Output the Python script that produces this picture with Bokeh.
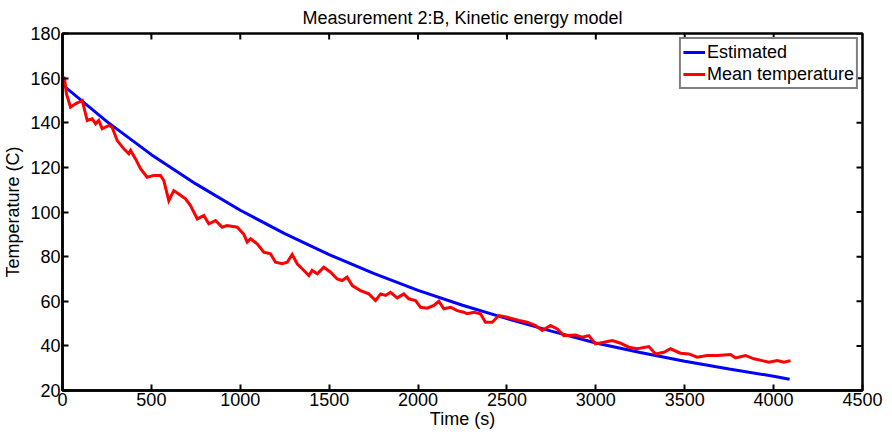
from bokeh.plotting import figure
from bokeh.models import FixedTicker, Legend, LegendItem, Range1d
from bokeh.embed import file_html
from bokeh.resources import INLINE

# Estimated (model) curve
est_time = [0, 250, 500, 750, 1000, 1250, 1500, 1750, 2000, 2250, 2500, 2750,
            3000, 3250, 3500, 3750, 4000, 4090]
est_temp = [157.0, 140.5, 125.7, 112.6, 100.8, 90.3, 80.9, 72.5, 64.9, 58.2,
            52.2, 46.6, 41.3, 37.0, 33.1, 29.6, 26.4, 25.0]

# Measured mean temperature
meas_time = [0, 11, 22, 45, 73, 92, 111, 139, 167, 186, 204, 223, 261, 279, 308,
             345, 373, 383, 411, 439, 476, 514, 551, 570, 598, 626, 654, 692, 720,
             758, 795, 823, 861, 898, 926, 983, 1020, 1039, 1058, 1095, 1132, 1170,
             1198, 1236, 1264, 1292, 1320, 1358, 1386, 1404, 1433, 1470, 1508, 1545,
             1573, 1601, 1630, 1676, 1723, 1761, 1789, 1817, 1845, 1883, 1920, 1948,
             1986, 2014, 2051, 2089, 2117, 2145, 2183, 2220, 2257, 2276, 2314, 2351,
             2379, 2417, 2454, 2501, 2567, 2614, 2661, 2698, 2745, 2783, 2820, 2886,
             2923, 2961, 2998, 3045, 3092, 3139, 3185, 3233, 3298, 3336, 3383, 3420,
             3476, 3523, 3570, 3626, 3683, 3758, 3786, 3842, 3889, 3936, 3973, 4020,
             4058, 4095]
meas_temp = [160.5, 160.1, 153.0, 147.0, 148.5, 149.2, 150.0, 141.0, 141.8, 139.5,
             141.0, 137.3, 138.8, 138.0, 132.0, 128.3, 126.1, 127.6, 123.8, 119.4,
             115.6, 116.4, 116.4, 114.1, 105.1, 109.6, 108.1, 105.9, 102.9, 96.9,
             98.4, 94.7, 96.2, 93.2, 93.9, 93.2, 90.0, 86.5, 88.0, 85.7, 82.0, 81.3,
             77.5, 76.8, 77.5, 81.0, 76.8, 73.8, 71.5, 73.8, 72.3, 75.2, 73.0, 70.0,
             69.3, 70.8, 67.0, 64.8, 63.3, 60.3, 63.3, 62.6, 64.0, 61.5, 63.3, 61.1,
             60.3, 57.3, 56.9, 58.1, 60.0, 56.6, 57.3, 55.8, 55.1, 54.4, 55.1, 54.4,
             50.6, 50.6, 53.6, 52.8, 51.4, 50.6, 49.1, 46.9, 49.1, 47.6, 44.6, 44.9,
             43.9, 44.6, 40.9, 41.6, 42.4, 41.2, 39.4, 38.7, 39.7, 36.4, 37.1, 38.7,
             36.7, 36.4, 34.9, 35.7, 35.7, 36.1, 34.6, 35.7, 34.2, 33.4, 32.7, 33.4,
             32.7, 33.4]

x_ticks = [0, 500, 1000, 1500, 2000, 2500, 3000, 3500, 4000, 4500]
y_ticks = [20, 40, 60, 80, 100, 120, 140, 160, 180]

FONT = "Liberation Sans"
W, H = 892, 437
BL, BR, BT, BB = 62, 30, 33, 47
X0, X1, Y0, Y1 = 0, 4500, 20, 180
TICK_PX = 6

p = figure(width=W, height=H, output_backend="svg", toolbar_location=None,
           x_range=Range1d(X0, X1), y_range=Range1d(Y0, Y1),
           title="Measurement 2:B, Kinetic energy model",
           min_border_left=BL, min_border_right=BR, min_border_top=BT,
           min_border_bottom=BB)
p.title.align = "center"
p.title.text_font = FONT
p.title.text_font_size = "18px"
p.title.text_font_style = "normal"
p.title.text_color = "black"
p.title.offset = 0
p.title.standoff = 11
p.xgrid.visible = False
p.ygrid.visible = False
p.outline_line_color = "black"
p.outline_line_width = 2.5
p.background_fill_color = "white"
p.border_fill_color = "white"

for ax in (p.xaxis[0], p.yaxis[0]):
    ax.axis_line_color = "black"
    ax.axis_line_width = 2.5
    ax.major_tick_in = TICK_PX
    ax.major_tick_out = 0
    ax.major_tick_line_width = 2
    ax.minor_tick_in = 0
    ax.minor_tick_out = 0
    ax.major_label_text_font = FONT
    ax.major_label_text_font_size = "18px"
    ax.major_label_text_color = "black"
    ax.axis_label_text_font = FONT
    ax.axis_label_text_font_size = "18px"
    ax.axis_label_text_font_style = "normal"
    ax.axis_label_text_color = "black"
    ax.major_label_standoff = 2

p.xaxis.ticker = FixedTicker(ticks=x_ticks)
p.yaxis.ticker = FixedTicker(ticks=y_ticks)
p.xaxis.axis_label = "Time (s)"
p.yaxis.axis_label = "Temperature (C)"
p.xaxis.axis_label_standoff = 0
p.yaxis.axis_label_standoff = 4

# mirrored inward ticks on the top and right edges of the box
tick_dy = (Y1 - Y0) * TICK_PX / (H - BT - BB)
tick_dx = (X1 - X0) * TICK_PX / (W - BL - BR)
p.segment(x0=x_ticks, y0=[Y1] * len(x_ticks), x1=x_ticks,
          y1=[Y1 - tick_dy] * len(x_ticks), line_color="black", line_width=2)
p.segment(x0=[X1] * len(y_ticks), y0=y_ticks, x1=[X1 - tick_dx] * len(y_ticks),
          y1=y_ticks, line_color="black", line_width=2)

r_est = p.line(est_time, est_temp, line_color="#0000ff", line_width=3)
r_meas = p.line(meas_time, meas_temp, line_color="#ff0000", line_width=3,
                line_join="miter")

legend = Legend(items=[LegendItem(label="Estimated", renderers=[r_est]),
                       LegendItem(label="Mean temperature", renderers=[r_meas])],
                location="top_right")
legend.label_text_font = FONT
legend.label_text_font_size = "18px"
legend.label_text_color = "black"
legend.border_line_color = "black"
legend.border_line_width = 2
legend.background_fill_alpha = 1
legend.margin = 4
legend.padding = 2
legend.spacing = 0
legend.glyph_width = 22
legend.glyph_height = 22
legend.label_standoff = 2
legend.label_height = 22
p.add_layout(legend)

open("out.html", "w").write(file_html(p, INLINE))
